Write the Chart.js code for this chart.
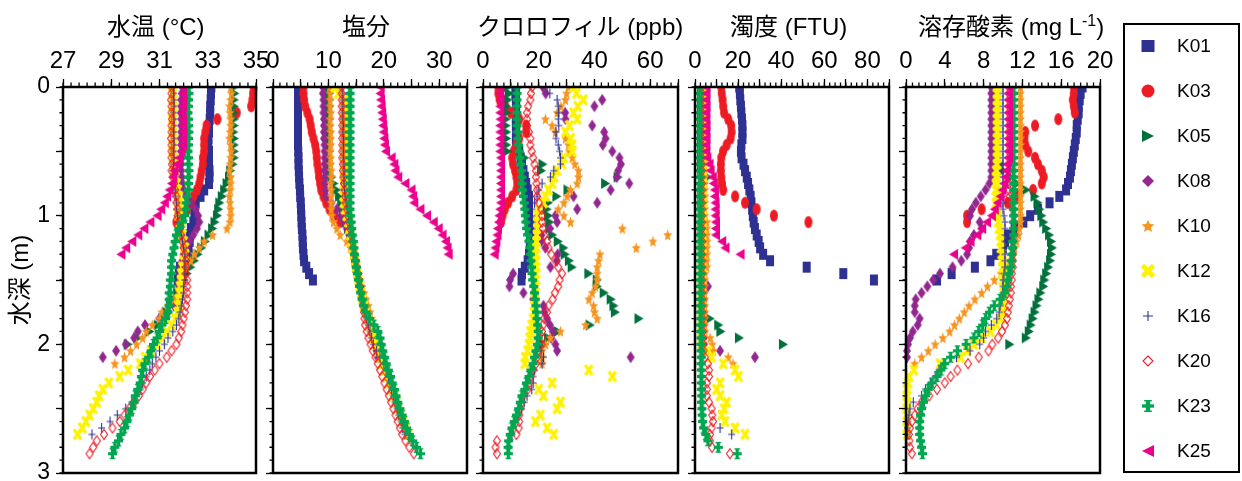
<!DOCTYPE html>
<html>
<head>
<meta charset="utf-8">
<script src="https://cdn.jsdelivr.net/npm/chart.js"></script>
<style>
html,body{margin:0;padding:0;width:1242px;height:481px;overflow:hidden;background:#fff;}
canvas.panel{position:absolute;left:0;top:0;}
.ttl{position:absolute;top:12px;font-size:24px;line-height:30px;font-family:'Liberation Sans','Noto Sans CJK JP',sans-serif;white-space:nowrap;color:#000;}
.ttl sup{font-size:16px;line-height:0;vertical-align:9px;}
#legend{position:absolute;left:1123px;top:23px;width:113px;height:446px;border:2px solid #000;}
#legend canvas{position:absolute;}
#legend span{position:absolute;left:52px;font-size:19px;line-height:22px;font-family:'Liberation Sans',sans-serif;color:#000;}
</style>
</head>
<body>
<canvas class="panel" id="p0" width="1242" height="500"></canvas>
<canvas class="panel" id="p1" width="1242" height="500"></canvas>
<canvas class="panel" id="p2" width="1242" height="500"></canvas>
<canvas class="panel" id="p3" width="1242" height="500"></canvas>
<canvas class="panel" id="p4" width="1242" height="500"></canvas>
<div class="ttl" style="left:107px">水温 (°C)</div>
<div class="ttl" style="left:342px">塩分</div>
<div class="ttl" style="left:477px">クロロフィル (ppb)</div>
<div class="ttl" style="left:730px">濁度 (FTU)</div>
<div class="ttl" style="left:918px">溶存酸素 (mg L<sup>-1</sup>)</div>
<div id="legend"></div>
<script>
// ---------------- DATA ----------------
const STATIONS = ['K01','K03','K05','K08','K10','K12','K16','K20','K23','K25'];
// depth sampling (m); each station uses the first N entries of this list
const DEPTH = [0,0.05,0.1,0.15,0.2,0.25,0.3,0.35,0.4,0.45,0.5,0.55,0.6,0.65,0.7,0.75,0.8,0.85,0.9,0.95,1,1.05,1.1,1.15,1.2,1.25,1.3,1.35,1.4,1.45,1.5,1.55,1.6,1.65,1.7,1.75,1.8,1.85,1.9,1.95,2,2.05,2.1,2.15,2.2,2.25,2.3,2.35,2.4,2.45,2.5,2.55,2.6,2.65,2.7,2.75,2.8,2.85];
const DEPTH_TICKS = [0,0.5,1,1.5,2,2.5,3];

// 水温 (°C)
const tempK01 = [33.15,33.13,33.12,33.1,33.1,33.08,33.05,33.05,33.03,33.02,33.05,33.05,33.05,33.07,33.07,33.05,32.85,32.7,32.5,32.45,32.45,32.4,32.3,32.25,32.25,32.2,32.2,32.05,31.85,31.8,31.75];
const tempK03 = [34.9,34.88,34.85,34.8,34.2,33.4,32.95,32.9,32.85,32.85,32.85,32.8,32.8,32.75,32.7,32.65,32.55,32.4,32.3,32.15,31.85,31.7];
const tempK05 = [34.1,34.12,34.1,34.1,34.08,34.1,34.1,34.08,34.1,34.1,34.1,34.1,34.05,33.95,33.9,33.8,33.7,33.6,33.5,33.45,33.4,33.3,33.2,33.05,32.9,32.75,32.6,32.45,32.3,32.15,32.0,31.9,31.75,31.6,31.45,31.3,31.15,30.95,30.6,30.1,29.7];
const tempK08 = [31.95,31.92,31.9,31.9,31.88,31.9,31.9,31.9,31.88,31.9,31.9,31.92,31.9,31.9,31.92,31.95,32.0,32.1,32.3,32.5,32.6,32.65,32.55,32.4,32.25,32.1,32.0,31.95,31.9,31.85,31.85,31.8,31.8,31.75,31.6,31.35,31.0,30.4,30.1,29.95,29.6,29.2,28.65];
const tempK10 = [33.95,33.98,33.95,33.9,33.92,33.95,33.95,33.93,33.9,33.95,33.97,33.95,33.92,33.9,33.95,33.95,33.93,33.9,33.92,33.95,33.95,33.92,33.8,33.2,32.85,32.65,32.45,32.3,32.1,31.95,31.9,31.9,31.85,31.6,31.35,31.1,31.0,30.7,30.45,30.3,30.05,29.8,29.55,29.15];
const tempK12 = [31.55,31.55,31.57,31.55,31.55,31.53,31.55,31.55,31.56,31.55,31.55,31.57,31.58,31.6,31.65,31.7,31.75,31.8,31.8,31.8,31.8,31.85,31.9,31.95,32.0,32.05,32.05,32.0,31.95,31.9,31.9,31.85,31.85,31.8,31.8,31.75,31.65,31.5,31.3,31.1,30.9,30.65,30.4,30.2,29.7,29.35,28.9,28.65,28.5,28.4,28.25,28.1,27.95,27.8,27.6];
const tempK16 = [31.6,31.58,31.6,31.6,31.57,31.6,31.6,31.58,31.6,31.6,31.57,31.6,31.58,31.55,31.6,31.6,31.65,31.65,31.7,31.7,31.75,31.8,31.85,31.9,31.95,32.0,32.05,32.05,32.05,32.05,32.05,32.0,32.0,31.95,31.9,31.85,31.8,31.7,31.55,31.35,31.2,31.0,30.85,30.7,30.6,30.45,30.3,30.2,30.0,29.85,29.6,29.25,28.95,28.6,28.2];
const tempK20 = [31.5,31.5,31.48,31.5,31.5,31.52,31.5,31.5,31.48,31.5,31.5,31.5,31.52,31.5,31.55,31.6,31.65,31.7,31.7,31.75,31.75,31.8,31.85,31.9,31.95,32.0,32.05,32.1,32.1,32.1,32.15,32.15,32.15,32.15,32.1,32.05,32.0,31.95,31.9,31.8,31.7,31.5,31.3,31.0,30.8,30.6,30.45,30.3,30.15,29.95,29.75,29.55,29.35,29.05,28.7,28.4,28.25,28.1];
const tempK23 = [32.2,32.22,32.2,32.2,32.18,32.2,32.2,32.22,32.2,32.2,32.18,32.2,32.2,32.22,32.2,32.2,32.2,32.15,32.1,32.1,32.05,31.95,31.8,31.7,31.65,31.6,31.55,31.5,31.5,31.5,31.45,31.45,31.4,31.4,31.4,31.35,31.25,31.1,31.0,30.9,30.75,30.65,30.55,30.4,30.3,30.25,30.2,30.1,30.0,29.95,29.85,29.75,29.65,29.55,29.4,29.3,29.15,29.05];
const tempK25 = [31.95,31.95,31.97,31.95,31.93,31.95,31.95,31.97,31.95,31.95,31.9,31.8,31.7,31.6,31.55,31.5,31.4,31.3,31.2,31.05,30.9,30.6,30.35,30.1,29.85,29.6,29.4];

// 塩分
const salK01 = [4.5,4.5,4.5,4.5,4.5,4.5,4.5,4.5,4.5,4.5,4.55,4.6,4.6,4.65,4.7,4.75,4.85,4.9,5.0,5.05,5.1,5.15,5.2,5.3,5.35,5.4,5.5,5.6,6.0,6.5,7.2];
const salK03 = [5.5,5.5,5.6,5.8,6.2,6.6,6.8,7.0,7.3,7.6,7.8,7.9,8.0,8.2,8.3,8.5,8.7,9.1,9.6,10.2,11.0,12.1];
const salK05 = [10.2,10.2,10.2,10.2,10.2,10.2,10.2,10.2,10.2,10.2,10.2,10.2,10.2,10.2,10.6,11.0,11.5,12.0,12.4,12.7,13.0,13.3,13.6,14.0,14.3,14.5,14.7,14.9,15.1,15.4,15.6,15.9,16.2,16.5,16.8,17.2,17.5,17.9,18.4,19.0,19.5];
const salK08 = [9.0,9.0,9.1,9.1,9.1,9.2,9.2,9.2,9.2,9.3,9.3,9.3,9.3,9.3,9.4,9.4,9.5,9.6,10.5,11.5,12.2,12.9,13.3,13.8,14.2,14.4,14.6,14.8,15.0,15.2,15.4,15.7,16.0,16.3,16.6,17.0,17.3,17.6,17.9,18.2,18.5,18.7,18.9];
const salK10 = [10.2,10.3,10.3,10.3,10.4,10.3,10.3,10.4,10.4,10.4,10.3,10.4,10.4,10.5,10.5,10.4,10.5,10.5,10.5,10.5,10.6,10.9,11.5,12.1,13.3,14.0,14.5,14.8,15.1,15.4,15.7,16.0,16.4,16.8,17.2,17.5,17.8,18.1,18.5,18.9,19.2,19.5,19.7,19.9];
const salK12 = [11.2,11.8,12.8,12.8,12.8,12.8,12.8,12.8,12.8,12.8,12.8,12.8,12.8,12.8,12.8,12.8,12.8,12.8,12.8,13.0,13.3,13.6,13.8,14.0,14.2,14.4,14.6,14.8,15.0,15.2,15.4,15.65,15.9,16.15,16.4,16.7,17.0,17.4,17.8,18.1,18.5,18.9,19.3,19.7,20.2,20.6,21.0,21.4,21.8,22.2,22.6,23.0,23.5,23.9,24.4];
const salK16 = [12.5,12.6,12.6,12.6,12.6,12.6,12.7,12.6,12.7,12.7,12.7,12.7,12.8,12.8,12.8,12.8,12.9,13.0,13.2,13.4,13.6,13.8,14.0,14.2,14.4,14.6,14.8,15.0,15.2,15.4,15.6,15.8,16.0,16.2,16.4,16.6,16.9,17.2,17.5,17.8,18.1,18.7,19.3,20.0,20.4,20.8,21.1,21.4,21.7,22.0,22.4,22.7,23.1,23.4,23.8];
const salK20 = [12.4,12.4,12.4,12.4,12.4,12.5,12.5,12.5,12.5,12.5,12.5,12.5,12.6,12.6,12.7,12.8,12.9,13.0,13.1,13.3,13.5,13.7,13.9,14.1,14.3,14.5,14.7,14.9,15.1,15.3,15.5,15.7,15.9,16.0,16.2,16.4,16.5,16.6,16.9,17.2,17.6,18.0,18.5,18.9,19.3,19.7,20.1,20.5,20.9,21.3,21.7,22.1,22.5,22.9,23.3,23.9,24.6,25.4];
const salK23 = [13.9,13.9,13.9,13.9,13.9,13.9,13.9,13.9,13.9,13.9,13.9,13.9,13.9,13.9,13.9,13.9,13.9,13.9,13.9,13.9,14.0,14.1,14.2,14.3,14.5,14.6,14.7,14.9,15.0,15.2,15.4,15.6,15.8,16.1,16.4,16.8,17.4,18.2,18.9,19.3,19.5,19.8,20.1,20.4,20.8,21.2,21.5,21.9,22.2,22.5,22.9,23.3,23.7,24.1,24.6,25.2,25.9,26.6];
const salK25 = [19.3,19.3,19.4,19.5,19.6,19.7,19.8,19.9,20.0,20.1,20.3,21.3,21.8,22.0,22.5,23.8,24.9,25.2,25.4,26.5,27.7,28.9,29.8,30.5,31.1,31.4,31.6];

// クロロフィル (ppb)
const chlK01 = [11.8,11.6,11.8,11.9,11.7,11.8,11.8,11.9,11.8,11.9,13.0,13.5,14.0,14.5,15.0,15.5,16.0,16.5,16.5,16.5,16.5,16.8,16.8,17.0,17.0,16.8,16.5,16.0,15.0,14.0,13.8];
const chlK03 = [5.5,5.5,6.0,8.0,10.0,13.0,15.5,15.5,13.0,12.0,11.0,10.5,10.8,11.5,12.0,12.3,12.0,10.5,9.0,7.8,7.0,6.5];
const chlK05 = [9.0,9.5,9.0,8.5,8.5,8.3,8.3,8.5,8.5,8.5,8.8,15.0,21.5,21.0,48.5,44.0,30.5,26.5,23.5,23.0,23.5,24.0,24.0,25.0,27.0,29.0,29.5,31.0,32.0,38.0,41.0,41.0,43.5,46.0,47.0,47.5,56.0,38.5,27.0,23.5,22.0];
const chlK08 = [21.5,22.5,42.8,40.0,29.5,29.6,39.2,43.5,44.0,43.0,46.4,49.0,49.5,48.5,48.0,52.5,45.8,32.5,41.0,33.8,26.0,26.6,24.0,21.0,21.0,22.4,26.8,26.5,24.2,10.8,9.7,9.5,14.5,18.0,21.7,22.0,23.0,24.0,25.0,24.5,26.0,26.6,53.0];
const chlK10 = [30.7,30.0,29.6,28.0,26.6,22.4,24.8,26.0,29.6,30.7,31.0,32.0,33.0,34.3,34.3,33.8,31.4,30.2,29.0,27.0,29.0,31.4,50.0,66.3,61.0,55.0,42.0,41.5,41.0,41.0,41.0,40.4,39.2,38.0,39.7,40.0,41.0,36.8,27.8,24.2,22.5,21.2,21.2,21.2];
const chlK12 = [32.5,33.5,36.0,34.0,32.5,33.8,31.0,29.6,31.5,32.0,32.0,29.0,28.4,26.6,25.5,24.8,23.5,22.5,21.7,20.0,19.5,19.4,19.4,19.2,19.2,19.0,19.0,19.0,19.0,19.0,19.0,18.8,18.8,18.5,18.5,18.2,18.0,17.5,17.0,16.8,16.5,16.0,15.2,15.0,38.0,46.4,24.8,20.0,21.7,27.8,26.6,20.6,18.8,23.0,25.4];
const chlK16 = [23.0,24.0,26.6,27.0,27.2,27.0,27.2,26.2,26.2,27.0,27.5,27.8,27.8,25.4,24.2,21.2,20.0,19.4,18.5,17.6,17.6,17.6,17.6,17.2,17.0,17.0,17.0,17.0,17.2,17.5,17.8,18.0,18.2,18.5,18.8,19.0,19.2,19.4,19.5,19.8,20.2,20.8,21.7,21.2,18.5,18.0,18.0,17.5,15.8,14.8,13.8,12.8,11.5,10.8,10.4];
const chlK20 = [17.6,17.2,17.0,16.2,15.8,15.8,15.8,16.5,17.0,17.0,17.5,18.0,18.5,19.0,19.0,19.2,19.4,19.4,20.0,21.0,21.2,21.2,21.5,22.0,23.0,23.5,24.5,26.0,27.0,28.4,27.5,27.0,25.8,25.0,23.5,23.0,22.0,21.5,21.2,21.2,21.0,19.8,19.4,19.0,18.0,17.0,16.6,16.0,14.5,14.0,13.4,13.0,13.0,12.8,12.0,5.0,4.5,5.0];
const chlK23 = [12.2,12.2,12.2,12.2,12.2,12.2,12.2,12.5,12.5,12.8,13.0,13.2,13.5,13.8,14.0,14.0,14.2,14.5,14.8,15.0,15.2,15.4,15.6,16.0,16.5,16.8,17.0,17.2,17.4,17.6,17.8,18.2,18.5,18.8,19.0,19.2,19.4,19.6,19.8,19.8,19.5,19.0,18.5,18.0,17.2,16.5,15.6,15.0,14.0,13.4,12.8,12.0,11.2,10.4,9.8,9.2,9.0,9.1];
const chlK25 = [6.0,6.0,6.1,6.0,6.0,6.1,6.0,6.0,6.1,6.0,6.0,6.3,6.3,6.3,6.3,6.3,6.3,6.3,6.3,6.0,5.7,5.5,5.2,5.0,4.6,4.3,4.0];

// 濁度 (FTU)
const turbK01 = [20.5,20.8,21.0,21.3,21.5,21.8,22.0,22.0,22.0,21.5,21.3,21.6,22.5,23.2,24.0,24.6,25.2,25.8,26.2,26.5,26.8,27.2,27.8,28.6,29.5,30.2,31.6,34.8,51.8,68.8,83.0];
const turbK03 = [12.2,12.4,12.8,13.1,13.5,15.4,16.8,17.0,16.5,14.7,13.0,12.2,12.0,12.0,12.2,12.5,13.1,18.6,23.2,28.6,36.6,52.6];
const turbK05 = [3.0,3.2,3.0,3.1,3.0,3.0,3.2,3.0,3.1,3.0,3.0,3.2,3.0,3.1,6.0,4.0,3.2,3.3,3.2,3.3,3.4,3.3,3.2,3.3,3.4,3.3,3.4,3.5,3.4,3.5,3.4,3.5,3.6,3.5,3.6,3.8,7.0,11.0,12.0,20.6,41.0];
const turbK08 = [3.4,3.5,3.4,3.5,3.5,3.4,3.5,3.6,3.5,3.5,3.4,3.5,3.5,3.6,3.5,3.5,3.6,3.5,3.6,3.6,3.5,3.6,3.7,3.6,3.6,3.7,3.6,3.7,3.8,3.7,3.8,6.0,4.0,4.1,4.0,4.0,4.1,4.0,4.2,4.0,4.1,11.6,27.8];
const turbK10 = [4.5,4.4,4.5,4.5,4.6,4.5,4.4,4.5,4.5,4.6,4.5,4.5,4.4,4.5,4.6,4.5,4.5,4.6,4.5,4.5,4.6,5.5,5.4,5.5,5.6,5.5,5.5,5.4,5.5,4.6,4.5,4.5,4.4,4.5,4.5,4.6,4.5,4.5,4.6,7.0,8.0,8.5,15.4,17.6];
const turbK12 = [3.5,3.4,3.5,3.5,3.6,3.5,3.4,3.5,3.5,3.4,3.5,3.5,3.6,3.5,3.4,3.5,3.5,3.4,3.5,3.5,3.4,3.3,3.4,3.3,3.2,3.3,3.2,3.2,3.1,3.2,3.1,3.1,3.0,3.1,3.0,3.0,3.1,3.0,3.0,3.1,3.0,6.0,7.7,13.1,18.6,20.1,11.6,10.0,11.6,14.7,13.5,12.4,13.9,18.6,23.2];
const turbK16 = [2.8,2.8,2.9,2.8,2.8,2.7,2.8,2.8,2.9,2.8,2.8,2.8,2.7,2.8,2.8,2.9,2.8,2.8,2.8,2.7,2.8,2.8,2.9,2.8,2.8,2.8,2.7,2.8,2.8,2.9,2.8,2.8,2.8,2.7,2.8,2.8,2.9,2.8,2.8,2.8,2.9,3.0,3.0,3.1,3.0,3.1,3.2,3.1,3.2,3.3,3.2,3.3,3.5,11.6,17.0];
const turbK20 = [3.0,3.1,3.0,3.1,3.2,3.1,3.0,3.1,3.2,3.1,3.2,3.1,3.2,3.2,3.1,3.2,3.3,3.2,3.2,3.3,3.2,3.3,3.2,3.3,3.3,3.2,3.3,3.4,3.3,3.4,3.3,3.4,3.4,3.5,3.4,3.5,3.6,3.5,3.6,3.7,3.8,4.0,4.5,6.0,6.5,6.5,5.5,5.5,5.5,6.5,7.7,8.0,8.3,7.7,7.0,7.0,7.9,16.2];
const turbK23 = [2.3,2.4,2.3,2.2,2.3,2.4,2.3,2.3,2.2,2.3,2.4,2.3,2.3,2.4,2.3,2.2,2.3,2.4,2.3,2.3,2.4,2.3,2.4,2.4,2.3,2.4,2.5,2.4,2.5,2.5,2.4,2.5,2.6,2.5,2.6,2.6,2.7,2.6,2.7,2.8,2.7,2.8,2.9,2.8,2.9,3.0,2.9,3.0,3.1,3.0,3.2,3.3,3.5,4.0,5.0,6.0,10.8,19.6];
const turbK25 = [5.0,5.1,5.0,5.1,5.0,5.0,5.1,5.0,5.1,5.0,5.0,5.5,6.5,7.0,8.0,8.5,9.0,9.0,9.3,9.3,9.3,9.5,9.5,9.5,12.4,13.9,20.9];

// 溶存酸素 (mg L-1)
const doK01 = [18.2,18.0,17.9,17.8,17.8,17.7,17.6,17.6,17.5,17.4,17.3,17.2,17.1,17.0,16.9,16.7,16.5,15.8,14.8,13.6,12.8,12.1,11.2,10.5,10.2,10.0,9.3,8.7,7.1,4.7,3.2];
const doK03 = [17.3,17.3,17.2,17.3,17.4,15.7,13.3,12.3,12.2,12.3,12.6,13.3,13.6,14.0,14.2,14.0,13.1,11.5,10.5,7.8,6.3,6.3];
const doK05 = [9.1,9.1,9.1,9.1,9.1,9.1,9.1,9.1,9.1,9.1,9.1,9.1,9.8,10.0,10.8,11.5,12.4,13.3,13.6,13.8,14.0,14.2,14.5,14.8,15.0,15.1,15.0,14.9,14.7,14.5,14.3,14.2,13.9,13.7,13.5,13.3,13.1,12.9,12.7,12.4,10.7];
const doK08 = [8.8,8.8,8.8,8.8,8.8,8.8,8.8,8.8,8.8,8.8,8.8,8.8,8.8,8.8,8.8,8.6,8.2,7.7,7.2,6.8,6.6,7.6,7.8,7.0,6.6,6.5,6.3,5.7,4.8,3.5,2.8,2.2,1.6,1.0,0.9,0.9,1.4,1.2,0.7,0.4,0.2,0.1,0.1];
const doK10 = [11.8,11.8,11.8,11.8,11.8,11.8,11.8,11.8,11.8,11.8,11.8,11.8,11.8,11.8,11.8,11.8,11.8,11.8,11.8,11.8,11.8,11.8,11.7,11.6,11.4,11.2,11.0,10.7,10.3,9.8,9.1,8.4,7.8,7.1,6.5,6.0,5.5,5.0,4.5,3.8,3.0,2.3,1.6,0.9];
const doK12 = [9.4,9.4,9.4,9.4,9.4,9.4,9.4,9.4,9.4,9.4,9.4,9.4,9.4,9.3,9.3,9.3,9.3,9.3,9.3,9.4,9.5,9.5,9.6,9.7,9.8,9.8,9.9,9.9,10.0,10.0,10.0,10.1,10.1,10.1,10.0,10.0,9.7,9.3,8.7,7.8,7.0,6.3,5.6,3.5,0.8,0.3,0.2,0.1,0.1,0.1,0.1,0.1,0.1,0.1,0.1];
const doK16 = [10.0,10.0,10.0,10.0,10.0,10.0,10.0,10.0,10.0,10.0,10.0,10.0,10.0,10.0,10.0,10.0,10.0,10.0,10.0,10.0,10.1,10.2,10.2,10.2,10.2,10.2,10.2,10.2,10.2,10.1,10.0,10.0,10.0,9.9,9.7,9.6,9.35,8.8,8.2,8.0,7.6,6.6,5.2,3.9,3.4,3.0,2.5,2.0,1.6,0.75,0.4,0.3,0.2,0.15,0.15];
const doK20 = [10.6,10.6,10.6,10.6,10.6,10.6,10.6,10.6,10.6,10.6,10.6,10.6,10.6,10.6,10.6,10.6,10.6,10.7,10.8,11.0,11.1,11.1,11.1,11.1,11.0,11.0,11.0,11.0,11.0,10.9,10.9,10.8,10.8,10.7,10.6,10.5,10.4,10.2,9.9,9.5,8.9,8.5,7.5,6.4,5.3,4.6,4.0,3.2,2.4,1.6,1.2,0.9,0.6,0.4,0.3,0.35,0.4,0.6];
const doK23 = [11.1,11.1,11.1,11.1,11.1,11.1,11.1,11.1,11.1,11.1,11.1,11.1,11.1,11.1,11.1,11.1,11.1,11.1,11.1,11.1,11.1,11.1,11.1,11.1,11.0,11.0,10.9,10.9,10.8,10.6,10.5,10.4,10.2,9.7,9.1,8.6,8.2,7.9,7.5,7.0,6.2,5.3,4.6,4.0,3.6,3.2,2.7,2.3,2.0,1.8,1.6,1.5,1.4,1.4,1.4,1.5,1.6,1.7];
const doK25 = [10.55,10.55,10.55,10.55,10.55,10.55,10.55,10.55,10.55,10.55,10.55,10.55,10.4,10.3,10.2,10.1,9.9,9.7,9.4,9.1,8.8,8.3,7.8,7.3,6.6,6.1,4.9];

// x-axis ticks per panel
const tempTicks = [27,29,31,33,35];
const salTicks = [0,10,20,30];
const chlTicks = [0,20,40,60];
const turbTicks = [0,20,40,60,80];
const doTicks = [0,4,8,12,16,20];

// ---------------- STYLE ----------------
const FONT = "'Liberation Sans', 'Noto Sans CJK JP', sans-serif";
const COLORS = ['#2E3192','#ED1C24','#00703C','#92278F','#F7941D','#FFF200','#2E3192','#ED1C24','#00A651','#EC008C'];
const SHAPES = ['square','circle','triR','diamond','star','xcross','plus','diamondO','cross','triL'];
const MSIZE = [[8,11],[8,12],[9,11],[8,12],[9,12],[9,12],[7,10],[8,11],[9,11],[9,11]];

function drawShape(g, shape, color, w, h) {
  const hw = w / 2, hh = h / 2;
  g.fillStyle = color; g.strokeStyle = color;
  g.beginPath();
  switch (shape) {
    case 'square': g.fillRect(-hw, -hh, w, h); break;
    case 'circle': g.ellipse(0, 0, hw, hh, 0, 0, Math.PI * 2); g.fill(); break;
    case 'triR': g.moveTo(hw, 0); g.lineTo(-hw, -hh); g.lineTo(-hw, hh); g.closePath(); g.fill(); break;
    case 'triL': g.moveTo(-hw, 0); g.lineTo(hw, -hh); g.lineTo(hw, hh); g.closePath(); g.fill(); break;
    case 'diamond': g.moveTo(0, -hh); g.lineTo(hw, 0); g.lineTo(0, hh); g.lineTo(-hw, 0); g.closePath(); g.fill(); break;
    case 'diamondO': g.lineWidth = 1.1; g.moveTo(0, -hh + 0.5); g.lineTo(hw - 0.5, 0); g.lineTo(0, hh - 0.5); g.lineTo(-hw + 0.5, 0); g.closePath(); g.stroke(); break;
    case 'star':
      for (let k = 0; k < 10; k++) {
        const a = -Math.PI / 2 + k * Math.PI / 5, r = (k % 2) ? 0.45 : 1;
        const px = Math.cos(a) * hw * r * 1.05, py = Math.sin(a) * hh * r * 1.05 + hh * 0.08;
        k ? g.lineTo(px, py) : g.moveTo(px, py);
      }
      g.closePath(); g.fill(); break;
    case 'xcross': g.lineWidth = Math.max(2.8, w * 0.36); g.moveTo(-hw + 1, -hh + 1); g.lineTo(hw - 1, hh - 1); g.moveTo(hw - 1, -hh + 1); g.lineTo(-hw + 1, hh - 1); g.stroke(); break;
    case 'plus': g.lineWidth = 1.1; g.moveTo(0, -hh); g.lineTo(0, hh); g.moveTo(-hw, 0); g.lineTo(hw, 0); g.stroke(); break;
    case 'cross':
      g.fillRect(-w * 0.18, -hh, w * 0.36, h);
      g.fillRect(-hw, -h * 0.14, w, h * 0.28);
      g.fillRect(-w * 0.32, -hh, w * 0.64, h * 0.12);
      g.fillRect(-w * 0.32, hh - h * 0.12, w * 0.64, h * 0.12);
      break;
  }
}
function makeMarker(shape, color, w, h) {
  const c = document.createElement('canvas');
  c.width = w + 4; c.height = h + 4;
  const g = c.getContext('2d');
  g.translate(c.width / 2, c.height / 2);
  drawShape(g, shape, color, w, h);
  return c;
}
const MARKERS = STATIONS.map((s, i) => makeMarker(SHAPES[i], COLORS[i], MSIZE[i][0], MSIZE[i][1]));

const frameAndMinor = {
  id: 'frameAndMinor',
  afterDraw(chart, args, o) {
    const {ctx, chartArea: a} = chart;
    const x = chart.scales.x, y = chart.scales.y;
    ctx.save();
    ctx.strokeStyle = '#000';
    ctx.lineWidth = 1.3;
    ctx.beginPath();
    const n = Math.round((x.max - x.min) / o.xMinor);
    for (let k = 0; k <= n; k++) {
      const px = x.getPixelForValue(x.min + k * o.xMinor);
      ctx.moveTo(px, a.top); ctx.lineTo(px, a.top - 4.5);
    }
    for (let k = 0; k <= 30; k++) {
      const py = y.getPixelForValue(k / 10);
      ctx.moveTo(a.left, py); ctx.lineTo(a.left - 3.5, py);
    }
    ctx.stroke();
    ctx.lineWidth = 2.5;
    ctx.strokeRect(a.left, a.top, a.right - a.left, a.bottom - a.top);
    ctx.restore();
  }
};

const PANELS = [
  {series: [tempK01,tempK03,tempK05,tempK08,tempK10,tempK12,tempK16,tempK20,tempK23,tempK25], min: 27, max: 35, major: tempTicks, labels: tempTicks, minor: 1/3, left: 63, right: 256},
  {series: [salK01,salK03,salK05,salK08,salK10,salK12,salK16,salK20,salK23,salK25], min: 0, max: 35, major: [0,5,10,15,20,25,30,35], labels: salTicks, minor: 1.25, left: 273, right: 467},
  {series: [chlK01,chlK03,chlK05,chlK08,chlK10,chlK12,chlK16,chlK20,chlK23,chlK25], min: 0, max: 70, major: [0,10,20,30,40,50,60,70], labels: chlTicks, minor: 2.5, left: 483, right: 678},
  {series: [turbK01,turbK03,turbK05,turbK08,turbK10,turbK12,turbK16,turbK20,turbK23,turbK25], min: 0, max: 90, major: [0,10,20,30,40,50,60,70,80,90], labels: turbTicks, minor: 2.5, left: 695, right: 889},
  {series: [doK01,doK03,doK05,doK08,doK10,doK12,doK16,doK20,doK23,doK25], min: 0, max: 20, major: doTicks, labels: doTicks, minor: 2/3, left: 906, right: 1100}
];

PANELS.forEach((p, pi) => {
  const first = pi === 0;
  const yW = first ? 63 : 10;
  new Chart(document.getElementById('p' + pi), {
    type: 'scatter',
    data: {
      datasets: STATIONS.map((s, i) => ({
        label: s,
        data: p.series[i].map((v, j) => ({x: v, y: DEPTH[j]})),
        pointStyle: MARKERS[i],
        pointRadius: 4,
        pointHoverRadius: 4,
        showLine: false,
        order: 9 - i,
        clip: {left: 8, right: 8, top: 0, bottom: 8}
      }))
    },
    options: {
      responsive: false,
      animation: false,
      devicePixelRatio: 1,
      events: [],
      layout: {padding: {left: p.left - yW, right: 1242 - p.right, top: 0, bottom: 27}},
      plugins: {legend: {display: false}, tooltip: {enabled: false}, frameAndMinor: {xMinor: p.minor}},
      scales: {
        x: {
          type: 'linear', position: 'top', min: p.min, max: p.max,
          afterBuildTicks: sc => { sc.ticks = p.major.map(v => ({value: v})); },
          afterFit: sc => { sc.height = 87; },
          ticks: {autoSkip: false, maxRotation: 0, minRotation: 0, padding: 3, color: '#000',
                  font: {size: 24, family: FONT},
                  callback: v => p.labels.includes(v) ? String(v) : ''},
          grid: {drawOnChartArea: false, drawTicks: true, tickLength: 8, tickColor: '#000', tickWidth: 1.3},
          border: {display: false}
        },
        y: {
          type: 'linear', position: 'left', reverse: true, min: 0, max: 3,
          afterBuildTicks: sc => { sc.ticks = DEPTH_TICKS.map(v => ({value: v})); },
          afterFit: sc => { sc.width = yW; },
          ticks: {autoSkip: false, padding: 6, color: '#000', font: {size: 23, family: FONT},
                  callback: v => (first && Number.isInteger(v)) ? String(v) : ''},
          grid: {drawOnChartArea: false, drawTicks: true, tickLength: 7, tickColor: '#000', tickWidth: 1.3},
          border: {display: false},
          title: {display: first, text: '水深 (m)', color: '#000', font: {size: 24, family: FONT}, padding: {top: 7, bottom: 0}}
        }
      }
    },
    plugins: [frameAndMinor]
  });
});

// legend
const LEG_SIZE = [[13,12],[13,13],[12,12],[12,12],[13,13],[13,13],[10,10],[11,11],[12,12],[12,12]];
const leg = document.getElementById('legend');
STATIONS.forEach((s, i) => {
  const cy = 20.5 + 45 * i;
  const c = document.createElement('canvas');
  c.width = 18; c.height = 18;
  c.style.left = (23 - 9) + 'px'; c.style.top = (cy - 9) + 'px';
  const g = c.getContext('2d');
  g.translate(9, 9);
  drawShape(g, SHAPES[i], COLORS[i], LEG_SIZE[i][0], LEG_SIZE[i][1]);
  leg.appendChild(c);
  const t = document.createElement('span');
  t.textContent = s;
  t.style.top = (cy - 11) + 'px';
  leg.appendChild(t);
});
</script>
</body>
</html>
